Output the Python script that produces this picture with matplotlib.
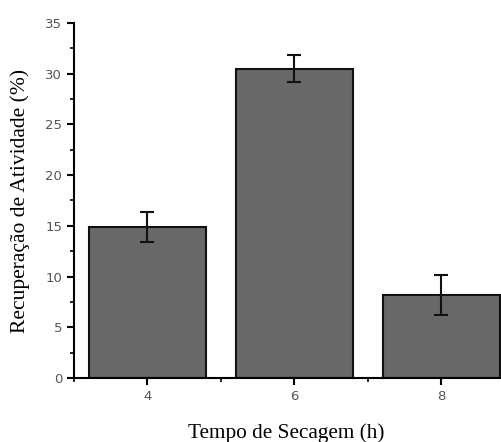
import numpy as np
import matplotlib
matplotlib.use('Agg')
import matplotlib.pyplot as plt
from matplotlib.ticker import MultipleLocator

tempo = [4, 6, 8]
recuperacao = [14.9, 30.5, 8.2]
erro = [1.5, 1.35, 1.95]

fig = plt.figure(figsize=(5.02, 4.42), dpi=100)
ax = fig.add_axes([74/502, 64/442, 441/502, 355/442])

ax.bar(tempo, recuperacao, width=1.6, color='#686868', edgecolor='#111111',
       linewidth=1.5, zorder=2)
ax.errorbar(tempo, recuperacao, yerr=erro, fmt='none', ecolor='#111111',
            elinewidth=1.5, capsize=5, capthick=1.5, zorder=3)

ax.set_xlim(3, 9)
ax.set_ylim(0, 35)
ax.xaxis.set_major_locator(MultipleLocator(2))
ax.xaxis.set_minor_locator(MultipleLocator(1))
ax.yaxis.set_major_locator(MultipleLocator(5))
ax.yaxis.set_minor_locator(MultipleLocator(2.5))

for s in ['top', 'right']:
    ax.spines[s].set_visible(False)
for s in ['left', 'bottom']:
    ax.spines[s].set_linewidth(1.5)

ax.tick_params(which='major', direction='out', length=5, width=1.5,
               labelsize=9.5, labelcolor='#555555')
ax.tick_params(which='minor', direction='out', length=3, width=1.2)

ax.set_xlabel('Tempo de Secagem (h)', family='Liberation Serif', fontsize=15.3)
ax.xaxis.set_label_coords(0.482, -0.128)
ax.set_ylabel('Recuperação de Atividade (%)', family='Liberation Serif', fontsize=15.5, labelpad=11)

plt.savefig('out.png', dpi=100)
